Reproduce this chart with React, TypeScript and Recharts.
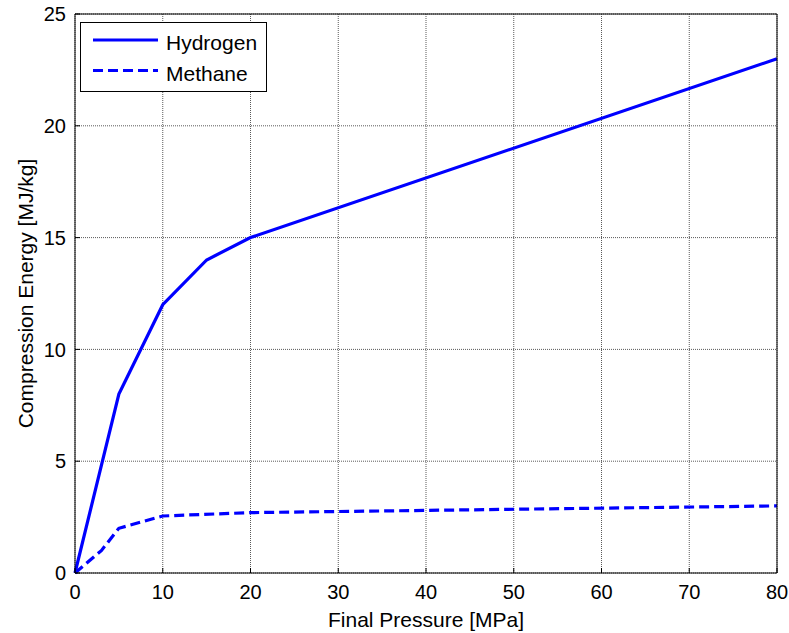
import { LineChart, Line, XAxis, YAxis, CartesianGrid, Legend, Label } from "recharts";

// Final pressure [MPa] and compression energy [MJ/kg]
const hydrogenPressure = [0, 5, 10, 15, 20, 80];
const hydrogenEnergy = [0, 8, 12, 14, 15, 23];
const methanePressure = [0, 3, 5, 10, 20, 80];
const methaneEnergy = [0, 1, 2, 2.55, 2.7, 3.0];

const xTicks = [0, 10, 20, 30, 40, 50, 60, 70, 80];
const yTicks = [0, 5, 10, 15, 20, 25];

const FONT = "Arial, 'Liberation Sans', Helvetica, sans-serif";
const BLUE = "#0000ff";

const hydrogen = hydrogenPressure.map((p, i) => ({ p, e: hydrogenEnergy[i] }));
const methane = methanePressure.map((p, i) => ({ p, e: methaneEnergy[i] }));

const series = [
  { name: "Hydrogen", data: hydrogen, dash: undefined as string | undefined },
  { name: "Methane", data: methane, dash: "10 5" },
];

const tickStyle = { fill: "#000", fontSize: 20, fontFamily: FONT };
const NoTick = () => <g />;

// MATLAB-style boxed legend in the upper left corner
function BoxLegend() {
  return (
    <svg width={187} height={70} style={{ display: "block" }}>
      <rect x={0.5} y={0.5} width={186} height={69} fill="#fff" stroke="#000" />
      {series.map((s, i) => (
        <g key={s.name}>
          <line x1={13} x2={78} y1={18 + i * 30.5} y2={18 + i * 30.5} stroke={BLUE} strokeWidth={3} strokeDasharray={s.dash} />
          <text x={86} y={27.5 + i * 31} fontSize={21} fontFamily={FONT} fill="#000">
            {s.name}
          </text>
        </g>
      ))}
    </svg>
  );
}

export default function App() {
  return (
    <div style={{ position: "absolute", left: 0, top: 0, background: "#fff" }}>
      <LineChart width={789} height={633} margin={{ top: 0, right: 0, bottom: 0, left: 0 }}>
        <CartesianGrid stroke="#5a5a5a" strokeDasharray="1 1" />
        <XAxis
          dataKey="p"
          type="number"
          domain={[0, 80]}
          ticks={xTicks}
          height={60}
          stroke="#000"
          tick={tickStyle}
          tickSize={-5}
          tickMargin={17}
          allowDuplicatedCategory={false}
        >
          <Label value="Final Pressure [MPa]" position="insideBottom" offset={6} style={{ fontSize: 21, fontFamily: FONT, fill: "#000" }} />
        </XAxis>
        <XAxis xAxisId="top" orientation="top" type="number" dataKey="p" domain={[0, 80]} ticks={xTicks} height={14} stroke="#000" tick={NoTick} tickSize={-5} />
        <YAxis
          type="number"
          domain={[0, 25]}
          ticks={yTicks}
          width={75}
          stroke="#000"
          tick={tickStyle}
          tickSize={-5}
          tickMargin={14}
        >
          <Label
            value="Compression Energy [MJ/kg]"
            angle={-90}
            position="center"
            dx={-12}
            style={{ fontSize: 21, fontFamily: FONT, fill: "#000", textAnchor: "middle" }}
          />
        </YAxis>
        <YAxis yAxisId="right" orientation="right" type="number" domain={[0, 25]} ticks={yTicks} width={12} stroke="#000" tick={NoTick} tickSize={-5} />
        <Legend
          layout="horizontal"
          verticalAlign="middle"
          align="center"
          content={<BoxLegend />}
          wrapperStyle={{ left: 80, top: 22, width: 187, height: 70 }}
        />
        {series.map((s) => (
          <Line
            key={s.name}
            data={s.data}
            dataKey="e"
            name={s.name}
            stroke={BLUE}
            strokeWidth={3.2}
            strokeDasharray={s.dash}
            dot={false}
            activeDot={false}
            isAnimationActive={false}
          />
        ))}
      </LineChart>
    </div>
  );
}
